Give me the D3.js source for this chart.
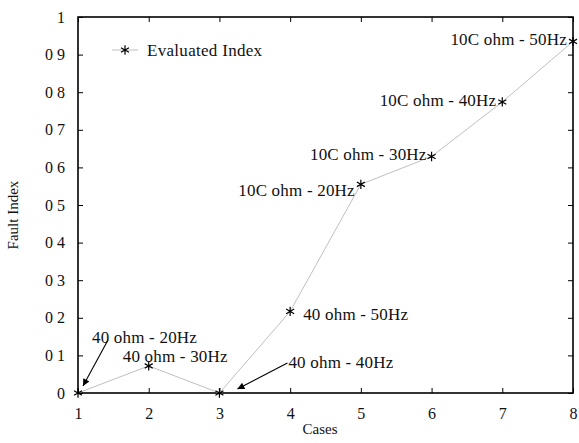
<!DOCTYPE html>
<html>
<head>
<meta charset="utf-8">
<script src="https://cdn.jsdelivr.net/npm/d3@7"></script>
<style>
  html, body { margin: 0; padding: 0; background: #fff; }
  svg { display: block; }
  text { font-family: "Liberation Serif", "DejaVu Serif", serif; fill: #111; }
</style>
</head>
<body>
<svg id="chart" width="579" height="443"></svg>
<script>
// Fault index evaluated for each test case
const cases = [1, 2, 3, 4, 5, 6, 7, 8];
const faultIndex = [0, 0.072, 0, 0.217, 0.555, 0.629, 0.774, 0.935];

const xTicks = [1, 2, 3, 4, 5, 6, 7, 8];
const xTickLabels = ["1", "2", "3", "4", "5", "6", "7", "8"];
const yTicks = [0, 0.1, 0.2, 0.3, 0.4, 0.5, 0.6, 0.7, 0.8, 0.9, 1];
const yTickLabels = ["0", "0 1", "0 2", "0 3", "0 4", "0 5", "0 6", "0 7", "0 8", "0 9", "1"];

// Point annotations: text, anchor case
const noteText = ["40 ohm - 50Hz", "10C ohm - 20Hz", "10C ohm - 30Hz", "10C ohm - 40Hz", "10C ohm - 50Hz", "40 ohm - 30Hz"];
const noteCase = [4, 5, 6, 7, 8, 2];

// Arrow annotations: text and the case the arrow points to
const arrowText = ["40 ohm - 20Hz", "40 ohm - 40Hz"];
const arrowCase = [1, 3];

const svg = d3.select("#chart");
const margin = { left: 78, right: 6, top: 17, bottom: 50 };
const W = 579, H = 443;

const x = d3.scaleLinear().domain([1, 8]).range([margin.left, W - margin.right]);
const y = d3.scaleLinear().domain([0, 1]).range([H - margin.bottom, margin.top]);

// Frame
svg.append("rect")
  .attr("x", x(1)).attr("y", y(1))
  .attr("width", x(8) - x(1)).attr("height", y(0) - y(1))
  .attr("fill", "none").attr("stroke", "#000").attr("stroke-width", 1.6);

// Axes with inward ticks on all four sides
const tickLen = 5;
const axBottom = svg.append("g").attr("transform", `translate(0,${y(0)})`)
  .call(d3.axisBottom(x).tickValues(xTicks).tickFormat((d, i) => xTickLabels[i]).tickSizeInner(-tickLen).tickSizeOuter(0).tickPadding(15));
const axTop = svg.append("g").attr("transform", `translate(0,${y(1)})`)
  .call(d3.axisTop(x).tickValues(xTicks).tickFormat("").tickSizeInner(-tickLen).tickSizeOuter(0));
const axLeft = svg.append("g").attr("transform", `translate(${x(1)},0)`)
  .call(d3.axisLeft(y).tickValues(yTicks).tickFormat((d, i) => yTickLabels[i]).tickSizeInner(-tickLen).tickSizeOuter(0).tickPadding(13));
const axRight = svg.append("g").attr("transform", `translate(${x(8)},0)`)
  .call(d3.axisRight(y).tickValues(yTicks).tickFormat("").tickSizeInner(-tickLen).tickSizeOuter(0));

[axBottom, axTop, axLeft, axRight].forEach(g => {
  g.select(".domain").remove();
  g.selectAll(".tick line").attr("stroke", "#000").attr("stroke-width", 1);
  g.selectAll(".tick text").attr("font-size", 16).attr("font-family", "Liberation Serif, serif").attr("fill", "#111");
});

// Axis titles
svg.append("text").attr("x", 320).attr("y", 434)
  .attr("text-anchor", "middle").attr("font-size", 15).text("Cases");
svg.append("text").attr("transform", "translate(18,215) rotate(-90)")
  .attr("text-anchor", "middle").attr("font-size", 15).text("Fault Index");

// Series line
const pts = cases.map((c, i) => [c, faultIndex[i]]);
svg.append("path")
  .datum(pts)
  .attr("fill", "none").attr("stroke", "#b8b8b8").attr("stroke-width", 0.9)
  .attr("d", d3.line().x(d => x(d[0])).y(d => y(d[1])));

// Asterisk markers
const star = d3.symbol().type(d3.symbolAsterisk).size(60);
svg.append("g").selectAll("path").data(pts).join("path")
  .attr("transform", d => `translate(${x(d[0])},${y(d[1])})`)
  .attr("d", star).attr("fill", "none").attr("stroke", "#000").attr("stroke-width", 1.2);

// Legend
svg.append("line").attr("x1", 112).attr("x2", 138).attr("y1", 50).attr("y2", 50)
  .attr("stroke", "#b8b8b8").attr("stroke-width", 0.9);
svg.append("path").attr("transform", "translate(125,50)").attr("d", star)
  .attr("fill", "none").attr("stroke", "#000").attr("stroke-width", 1.2);
svg.append("text").attr("x", 147).attr("y", 55.5).attr("font-size", 17)
  .attr("letter-spacing", 0.3).text("Evaluated Index");

// Point annotations (offsets in pixels from each point)
const noteDx = [13, -6, -5, -6, -6, -26];
const noteDy = [9, 12, 4, 4, 4, -4];
const noteAnchor = ["start", "end", "end", "end", "end", "start"];
noteText.forEach((t, i) => {
  const c = noteCase[i];
  const v = faultIndex[cases.indexOf(c)];
  svg.append("text")
    .attr("x", x(c) + noteDx[i]).attr("y", y(v) + noteDy[i])
    .attr("text-anchor", noteAnchor[i]).attr("font-size", 17)
    .attr("letter-spacing", 0.2).text(t);
});

// Arrow annotations
const defs = svg.append("defs");
defs.append("marker").attr("id", "head").attr("viewBox", "0 0 10 10")
  .attr("refX", 10).attr("refY", 5).attr("markerWidth", 9).attr("markerHeight", 7)
  .attr("markerUnits", "userSpaceOnUse").attr("orient", "auto")
  .append("path").attr("d", "M0,0L10,5L0,10z").attr("fill", "#000");

const arrowTail = [[30, -53], [68, -30]];
const arrowTip = [[5, -7], [18, -4]];
const arrowTextPos = [[14, -50], [69, -25]];
arrowText.forEach((t, i) => {
  const c = arrowCase[i];
  const v = faultIndex[cases.indexOf(c)];
  const px = x(c), py = y(v);
  svg.append("line")
    .attr("x1", px + arrowTail[i][0]).attr("y1", py + arrowTail[i][1])
    .attr("x2", px + arrowTip[i][0]).attr("y2", py + arrowTip[i][1])
    .attr("stroke", "#000").attr("stroke-width", 1.1).attr("marker-end", "url(#head)");
  svg.append("text")
    .attr("x", px + arrowTextPos[i][0]).attr("y", py + arrowTextPos[i][1])
    .attr("font-size", 17).attr("letter-spacing", 0.2).text(t);
});
</script>
</body>
</html>
